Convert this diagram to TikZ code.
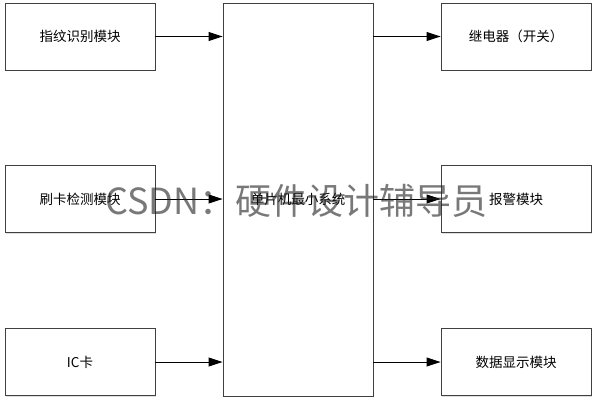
\documentclass[tikz,border=0pt]{standalone}
\usepackage{fontspec}
\setmainfont{Noto Sans CJK SC}
\usetikzlibrary{arrows.meta,shadows}
\begin{document}
\begin{tikzpicture}[
        x=1pt,y=-1pt,
        font=\fontsize{13.5}{16}\selectfont,
        block/.style={draw=black!75, line width=0.9pt, fill=white,
            minimum width=150pt, minimum height=67pt, inner sep=0pt,
            drop shadow={opacity=0.25, shadow xshift=1.3pt, shadow yshift=-1.3pt}},
        link/.style={-{Triangle[length=14pt,width=9pt]}, line width=0.9pt},
        ]
    \useasboundingbox (0,0) rectangle (597,404);
    \node (mcu) [block, minimum height=393pt] at (298,199.5) {单片机最小系统};
    % inputs
    \foreach \y / \txt [count=\i] in {
        36.5/指纹识别模块,
        199/刷卡检测模块,
        362/IC卡
    }
    {
        \node (in\i) [block] at (80,\y) {\txt};
        \draw [link] (in\i) -- (in\i -| mcu.west);
    }
    % outputs
    \foreach \y / \txt [count=\i] in {
        36.5/继电器（开关）,
        199/报警模块,
        362/数据显示模块
    }
    {
        \node (out\i) [block] at (516,\y) {\txt};
        \draw [link] (mcu.east |- out\i) -- (out\i);
    }
    \node (mark) [text=black!88, opacity=0.6, font=\fontsize{36}{40}\selectfont]
        at (296.5,201) {CSDN：硬件设计辅导员};
\end{tikzpicture}
\end{document}
